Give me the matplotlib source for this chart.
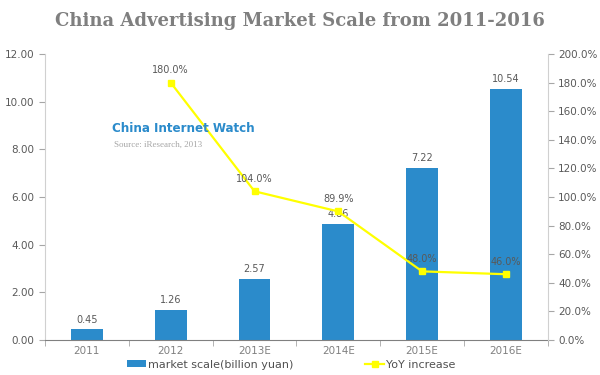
import matplotlib
matplotlib.use("Agg")
import matplotlib.pyplot as plt
from matplotlib.ticker import FuncFormatter, FixedLocator

categories = ["2011", "2012", "2013E", "2014E", "2015E", "2016E"]
market_scale = [0.45, 1.26, 2.57, 4.86, 7.22, 10.54]
yoy_cats = ["2012", "2013E", "2014E", "2015E", "2016E"]
yoy = [180.0, 104.0, 89.9, 48.0, 46.0]

bar_color = "#2B8BCB"
line_color = "#FFFF00"
text_gray = "#595959"
xlab_gray = "#808080"
axis_gray = "#A6A6A6"

fig = plt.figure(figsize=(6, 3.75), dpi=100)
ax = fig.add_axes([0.075, 0.0933, 0.838, 0.7627])
x = list(range(len(categories)))
ax.bar(x, market_scale, width=0.38, color=bar_color, zorder=2,
       label="market scale(billion yuan)")
ax.set_xlim(-0.5, len(categories) - 0.5)
ax.set_ylim(0, 12)
ax.set_yticks([0, 2, 4, 6, 8, 10, 12])
ax.yaxis.set_major_formatter(FuncFormatter(lambda v, p: f"{v:.2f}"))
ax.set_xticks(x)
ax.set_xticklabels(categories)
ax.xaxis.set_minor_locator(FixedLocator([i - 0.5 for i in range(len(categories) + 1)]))
ax.tick_params(axis="x", which="major", length=0, labelsize=7.5, colors=xlab_gray, pad=4)
ax.tick_params(axis="x", which="minor", length=4, color=axis_gray, direction="out")
ax.tick_params(axis="y", labelsize=7.5, colors=text_gray, length=4, color=axis_gray, direction="out")
for s in ["top", "right"]:
    ax.spines[s].set_visible(False)
ax.spines["left"].set_color("#D0D0D0")
ax.spines["bottom"].set_color("#808080")

for xi, v in zip(x, market_scale):
    ax.text(xi, v + 0.2, f"{v:.2f}", ha="center", va="bottom", fontsize=7, color=text_gray)

ax2 = ax.twinx()
ax2.set_position(ax.get_position())
xl = [categories.index(c) for c in yoy_cats]
ax2.plot(xl, yoy, color=line_color, lw=1.6, marker="s", ms=4.5, zorder=3,
         label="YoY increase")
ax2.set_ylim(0, 200)
ax2.set_yticks(range(0, 201, 20))
ax2.yaxis.set_major_formatter(FuncFormatter(lambda v, p: f"{v:.1f}%"))
ax2.tick_params(axis="y", labelsize=7.5, colors=text_gray, length=4, color=axis_gray, direction="out")
for s in ["top", "left", "bottom"]:
    ax2.spines[s].set_visible(False)
ax2.spines["right"].set_color("#D0D0D0")
for xi, v in zip(xl, yoy):
    ax2.text(xi, v + 5, f"{v:.1f}%", ha="center", va="bottom", fontsize=7, color=text_gray)

fig.text(0.5, 0.945, "China Advertising Market Scale from 2011-2016", ha="center", va="center",
         fontsize=13, fontweight="bold", color="#7F7F7F", family="DejaVu Serif")

fig.text(0.1867, 0.658, "China Internet Watch", ha="left", va="center", fontsize=9.5,
         fontweight="bold", color="#2B8BCB", family="DejaVu Sans", fontstretch="condensed")
fig.text(0.19, 0.615, "Source: iResearch, 2013", ha="left", va="center", fontsize=6.5,
         color="#A6A6A6", family="Liberation Serif")

h1, l1 = ax.get_legend_handles_labels()
h2, l2 = ax2.get_legend_handles_labels()
fig.legend(h1 + h2, l1 + l2, loc="center", bbox_to_anchor=(0.485, 0.028), ncol=2, frameon=False,
           labelcolor="#505050", handlelength=1.7, handleheight=0.5,
           columnspacing=6.5, handletextpad=0.15, borderpad=0.2,
           prop={"size": 8})

fig.savefig("out.png", dpi=100)
